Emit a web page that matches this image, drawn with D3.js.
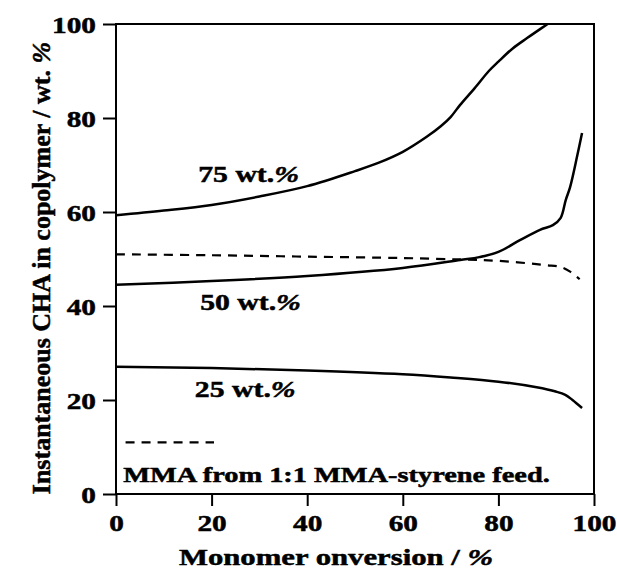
<!DOCTYPE html>
<html>
<head>
<meta charset="utf-8">
<script src="https://cdn.jsdelivr.net/npm/d3@7"></script>
<style>
  body { margin: 0; background: #fff; }
  svg text { font-family: "Liberation Serif", "Times New Roman", serif; font-weight: bold; fill: #000; stroke: #000; stroke-width: 0.5px; }
</style>
</head>
<body>
<div id="chart"></div>
<script>
// conversion (%) and instantaneous CHA (wt.%)
const conv75 = [0, 10, 20, 30, 40, 50, 55, 60, 65, 68, 70, 72, 75, 78, 80, 83, 86, 90, 91];
const cha75  = [59.3, 60.3, 61.5, 63.3, 65.5, 68.7, 70.5, 72.8, 76, 78.3, 80.2, 82.8, 86.3, 90, 92, 94.8, 97, 99.8, 100.5];

const conv50 = [0, 20, 40, 60, 72, 76, 80, 84.5, 88.7, 91.4, 93, 94.1, 95, 96.5, 97.5];
const cha50  = [44.5, 45.3, 46.4, 48.1, 49.8, 50.4, 51.5, 54, 56.2, 57.2, 58.7, 62.6, 65.3, 72, 76.8];

const conv25 = [0, 20, 40, 60, 70, 80, 88, 92, 94, 95.5, 97.5];
const cha25  = [27.1, 26.8, 26.3, 25.5, 24.8, 23.9, 22.7, 21.8, 21.1, 20.0, 18.3];

const convMMA = [0, 20, 40, 60, 72, 80, 90, 93, 95, 97];
const chaMMA  = [51, 50.8, 50.5, 50.2, 49.9, 49.6, 48.7, 48.3, 47.3, 45.7];

const xTicks = [0, 20, 40, 60, 80, 100];
const yTicks = [0, 20, 40, 60, 80, 100];

const curveLabels = [
  { x: 17.2, y: 66.4, text: "75 wt." },
  { x: 17.6, y: 39.1, text: "50 wt." },
  { x: 16.5, y: 20.6, text: "25 wt." }
];
const legendX = [2, 20.5];
const legendY = 11;
const legendText = "MMA from 1:1 MMA-styrene feed.";

const W = 617, H = 573;
const margin = { top: 24, right: 23, bottom: 79, left: 116 };
const width = W - margin.left - margin.right;
const height = H - margin.top - margin.bottom;
const stretch = 1.24;   // the scanned figure's lettering is wider than it is tall

const svg = d3.select('#chart').append('svg')
  .attr('width', W)
  .attr('height', H);

const x = d3.scaleLinear().domain([0, 100]).range([0, width]);
const y = d3.scaleLinear().domain([0, 100]).range([height, 0]);

const g = svg.append('g')
  .attr('transform', `translate(${margin.left}, ${margin.top})`);

svg.append('defs').append('clipPath').attr('id', 'clip')
  .append('rect').attr('width', width).attr('height', height);

// place a text at (px, py) with a horizontal stretch
function wideText(parent, px, py, size, sx) {
  return parent.append('text')
    .attr('transform', `translate(${px}, ${py}) scale(${sx}, 1)`)
    .style('font-size', size + 'px');
}

// axes
const yAxis = g.append('g')
  .call(d3.axisLeft(y).tickValues(yTicks).tickSize(13).tickPadding(7).tickFormat(d3.format('d')));
const xAxis = g.append('g')
  .attr('transform', `translate(0, ${height})`)
  .call(d3.axisBottom(x).tickValues(xTicks).tickSize(12).tickPadding(8).tickFormat(d3.format('d')));

[xAxis, yAxis].forEach(a => {
  a.select('.domain').remove();
  a.selectAll('line').attr('stroke', '#000').attr('stroke-width', 2);
  a.selectAll('text').style('font-size', '24px').attr('fill', '#000');
});
yAxis.selectAll('text').each(function() {
  const t = d3.select(this);
  const tx = +t.attr('x');
  t.attr('x', 0).attr('dy', '0.34em').attr('transform', `translate(${tx}, 0) scale(1.22, 1)`);
});
xAxis.selectAll('text').each(function() {
  const t = d3.select(this);
  const ty = +t.attr('y');
  t.attr('y', 0).attr('transform', `translate(0, ${ty}) scale(1.22, 1)`);
});

// frame
g.append('rect')
  .attr('width', width)
  .attr('height', height)
  .attr('fill', 'none')
  .attr('stroke', '#000')
  .attr('stroke-width', 2);

const line = d3.line()
  .x(d => x(d[0]))
  .y(d => y(d[1]))
  .curve(d3.curveCatmullRom.alpha(0.5));

const plot = g.append('g').attr('clip-path', 'url(#clip)');

[[conv75, cha75], [conv50, cha50], [conv25, cha25]].forEach(([cx, cy]) => {
  plot.append('path')
    .datum(cx.map((v, i) => [v, cy[i]]))
    .attr('fill', 'none')
    .attr('stroke', '#000')
    .attr('stroke-width', 2.5)
    .attr('d', line);
});

plot.append('path')
  .datum(convMMA.map((v, i) => [v, chaMMA[i]]))
  .attr('fill', 'none')
  .attr('stroke', '#000')
  .attr('stroke-width', 2.2)
  .attr('stroke-dasharray', '9,7')
  .attr('d', line);

// curve labels
curveLabels.forEach(l => {
  const t = wideText(g, x(l.x), y(l.y), 24, stretch).text(l.text);
  t.append('tspan').style('font-style', 'italic').text('%');
});

// legend
g.append('line')
  .attr('x1', x(legendX[0])).attr('x2', x(legendX[1]))
  .attr('y1', y(legendY)).attr('y2', y(legendY))
  .attr('stroke', '#000')
  .attr('stroke-width', 2.2)
  .attr('stroke-dasharray', '9,7');

wideText(g, x(1.5), y(2.5), 22, 1.29).text(legendText);

// axis titles
wideText(svg, 336, 565, 24, 1.28)
  .attr('text-anchor', 'middle')
  .text('Monomer  onversion / ')
  .append('tspan').style('font-style', 'italic').text('%');

svg.append('text')
  .attr('transform', `translate(50, 268) rotate(-90)`)
  .attr('text-anchor', 'middle')
  .style('font-size', '26px')
  .text('Instantaneous CHA in copolymer / wt. ')
  .append('tspan').style('font-style', 'italic').text('%');
</script>
</body>
</html>
